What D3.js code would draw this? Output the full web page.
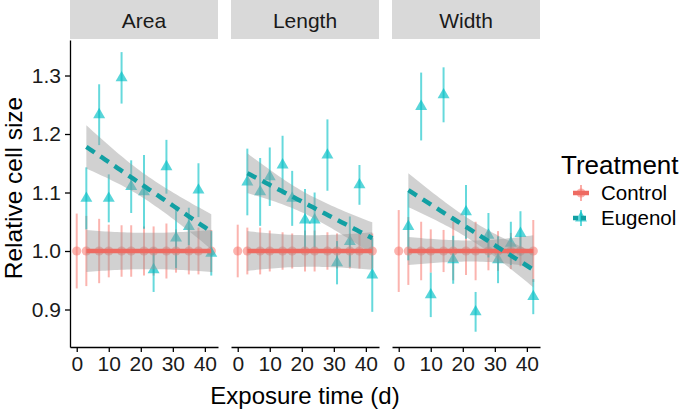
<!DOCTYPE html>
<html><head><meta charset="utf-8">
<script src="https://cdn.jsdelivr.net/npm/d3@7"></script>
<style>body{margin:0;background:#fff}svg{display:block;font-family:"Liberation Sans",Arial,sans-serif}</style>
</head><body><div id="chart"></div>
<script>
// ---------- data ----------
const panels = ["Area", "Length", "Width"];
const ctrlDays = [0, 3, 7, 10, 14, 17, 21, 24, 28, 31, 35, 38, 42];
const ctrlMean = [1, 1, 1, 1, 1, 1, 1, 1, 1, 1, 1, 1, 1];
const areaCtrlErr   = [0.064, 0.060, 0.055, 0.045, 0.044, 0.044, 0.042, 0.042, 0.047, 0.037, 0.040, 0.040, 0.036];
const lengthCtrlErr = [0.045, 0.040, 0.040, 0.035, 0.032, 0.030, 0.035, 0.035, 0.032, 0.030, 0.030, 0.030, 0.030];
const widthCtrlErr  = [0.070, 0.058, 0.050, 0.037, 0.036, 0.050, 0.041, 0.050, 0.033, 0.034, 0.031, 0.026, 0.053];
const eugDays = [3, 7, 10, 14, 17, 21, 24, 28, 31, 35, 38, 42];
const areaEug      = [1.090, 1.233, 1.090, 1.296, 1.110, 1.101, 0.968, 1.144, 1.022, 1.042, 1.104, 0.996];
const areaEugErr   = [0.053, 0.052, 0.041, 0.044, 0.045, 0.063, 0.038, 0.046, 0.051, 0.032, 0.046, 0.038];
const lengthEug    = [1.118, 1.101, 1.127, 1.147, 1.090, 1.053, 1.053, 1.164, 0.980, 1.016, 1.113, 0.959];
const lengthEugErr = [0.057, 0.058, 0.050, 0.050, 0.047, 0.053, 0.047, 0.061, 0.037, 0.043, 0.034, 0.063];
const widthEug     = [1.042, 1.247, 0.925, 1.267, 0.985, 1.067, 0.896, 1.027, 0.985, 1.013, 1.030, 0.922];
const widthEugErr  = [0.058, 0.058, 0.038, 0.047, 0.041, 0.046, 0.034, 0.038, 0.040, 0.037, 0.038, 0.030];
// linear fits (day 3 to day 42): fitted value at start/end and CI half-width at start/middle/end
const fitRange = [3, 42];
const ctrlFitStart = [1.0, 1.0, 1.0];
const ctrlFitEnd   = [1.0, 1.0, 1.0];
const ctrlCI = [[0.036, 0.031, 0.036], [0.034, 0.027, 0.032], [0.024, 0.018, 0.027]];
const eugFitStart = [1.178, 1.133, 1.104];
const eugFitEnd   = [1.033, 1.022, 0.968];
const eugCI = [[0.037, 0.021, 0.030], [0.034, 0.018, 0.027], [0.029, 0.017, 0.030]];
const xTicks = [0, 10, 20, 30, 40];
const yTicks = [0.9, 1.0, 1.1, 1.2, 1.3];
const treatments = ["Control", "Eugenol"];

// ---------- layout ----------
const W = 685, H = 411;
const colors = {Control: "#F8766D", Eugenol: "#00BFC4"};
const panelW = 148, panelX = [70, 231, 392], plotTop = 40, plotBottom = 347, stripH = 39;
const font = "'Liberation Sans', Arial, sans-serif";

const svg = d3.select("#chart").append("svg").attr("width", W).attr("height", H);

const x = d3.scaleLinear().domain([-2.1, 44.1]).range([0, panelW]);
const y = d3.scaleLinear().domain([0.8359, 1.3607]).range([plotBottom, plotTop]);

const ctrlErrs = [areaCtrlErr, lengthCtrlErr, widthCtrlErr];
const eugVals = [areaEug, lengthEug, widthEug];
const eugErrs = [areaEugErr, lengthEugErr, widthEugErr];

function ribbonData(start, end, ci) {
  const xm = (fitRange[0] + fitRange[1]) / 2, half = (fitRange[1] - fitRange[0]) / 2;
  const kS = Math.sqrt(Math.max(ci[0] ** 2 - ci[1] ** 2, 0)) / half;
  const kE = Math.sqrt(Math.max(ci[2] ** 2 - ci[1] ** 2, 0)) / half;
  const pts = [];
  for (let i = 0; i <= 40; i++) {
    const d = fitRange[0] + (fitRange[1] - fitRange[0]) * i / 40;
    const v = start + (end - start) * (d - fitRange[0]) / (fitRange[1] - fitRange[0]);
    const k = d < xm ? kS : kE;
    const hw = Math.sqrt(ci[1] ** 2 + (k * (d - xm)) ** 2);
    pts.push({d, lo: v - hw, hi: v + hw, v});
  }
  return pts;
}

panels.forEach((name, pi) => {
  const g = svg.append("g").attr("transform", `translate(${panelX[pi]},0)`);
  // strip
  g.append("rect").attr("x", 0).attr("y", 0).attr("width", panelW).attr("height", stripH).attr("fill", "#D9D9D9");
  g.append("text").attr("x", panelW / 2).attr("y", 27.5).attr("text-anchor", "middle")
    .attr("font-size", 21).attr("fill", "#1a1a1a").text(name);

  const ctrl = ctrlDays.map((d, i) => ({d, v: ctrlMean[i], e: ctrlErrs[pi][i]}));
  const eug = eugDays.map((d, i) => ({d, v: eugVals[pi][i], e: eugErrs[pi][i]}));

  // error bars
  g.selectAll(".ce").data(ctrl).join("line")
    .attr("x1", d => x(d.d)).attr("x2", d => x(d.d))
    .attr("y1", d => y(d.v - d.e)).attr("y2", d => y(d.v + d.e))
    .attr("stroke", colors.Control).attr("stroke-opacity", 0.55).attr("stroke-width", 2);
  g.selectAll(".ee").data(eug).join("line")
    .attr("x1", d => x(d.d)).attr("x2", d => x(d.d))
    .attr("y1", d => y(d.v - d.e)).attr("y2", d => y(d.v + d.e))
    .attr("stroke", colors.Eugenol).attr("stroke-opacity", 0.6).attr("stroke-width", 2);
  // points
  g.selectAll(".cp").data(ctrl).join("circle")
    .attr("cx", d => x(d.d)).attr("cy", d => y(d.v)).attr("r", 4.6)
    .attr("fill", colors.Control).attr("fill-opacity", 0.55);
  const tri = d3.symbol().type(d3.symbolTriangle).size(62);
  g.selectAll(".ep").data(eug).join("path")
    .attr("d", tri).attr("transform", d => `translate(${x(d.d)},${y(d.v)})`)
    .attr("fill", colors.Eugenol).attr("fill-opacity", 0.65);

  // ribbons
  const area = d3.area().x(d => x(d.d)).y0(d => y(d.lo)).y1(d => y(d.hi));
  const line = d3.line().x(d => x(d.d)).y(d => y(d.v));
  const rc = ribbonData(ctrlFitStart[pi], ctrlFitEnd[pi], ctrlCI[pi]);
  const re = ribbonData(eugFitStart[pi], eugFitEnd[pi], eugCI[pi]);
  g.append("path").attr("d", area(rc)).attr("fill", "#999999").attr("fill-opacity", 0.45);
  g.append("path").attr("d", area(re)).attr("fill", "#999999").attr("fill-opacity", 0.45);
  g.append("path").attr("d", line(rc)).attr("fill", "none").attr("stroke", "#EE6B62").attr("stroke-width", 4.5);
  g.append("path").attr("d", line(re)).attr("fill", "none").attr("stroke", "#12A0A3")
    .attr("stroke-width", 4.5).attr("stroke-dasharray", "10,7");

  // x axis
  const xa = g.append("g").attr("transform", `translate(0,${plotBottom})`)
    .call(d3.axisBottom(x).tickValues(xTicks).tickSize(5).tickPadding(4).tickSizeOuter(0));
  xa.select(".domain").attr("stroke", "#000").attr("stroke-width", 1.3);
  xa.selectAll(".tick line").attr("stroke", "#000").attr("stroke-width", 1.3);
  xa.selectAll(".tick text").attr("font-size", 21).attr("font-family", font).attr("fill", "#1a1a1a");
  if (pi === 0) {
    const ya = g.append("g")
      .call(d3.axisLeft(y).tickValues(yTicks).tickFormat(d3.format(".1f")).tickSize(5).tickPadding(4).tickSizeOuter(0));
    ya.select(".domain").attr("stroke", "#000").attr("stroke-width", 1.3);
    ya.selectAll(".tick line").attr("stroke", "#000").attr("stroke-width", 1.3);
    ya.selectAll(".tick text").attr("font-size", 21).attr("font-family", font).attr("fill", "#1a1a1a");
  }
});

// axis titles
svg.append("text").attr("x", (panelX[0] + panelX[2] + panelW) / 2).attr("y", 404)
  .attr("text-anchor", "middle").attr("font-size", 24).text("Exposure time (d)");
svg.append("text").attr("transform", `translate(22,188) rotate(-90)`)
  .attr("text-anchor", "middle").attr("font-size", 24.5).text("Relative cell size");

// legend
const lg = svg.append("g").attr("transform", "translate(561,0)");
lg.append("text").attr("x", 0).attr("y", 174).attr("font-size", 26).text("Treatment");
treatments.forEach((t, i) => {
  const cy = 193 + i * 25;
  const k = lg.append("g").attr("transform", `translate(20,${cy})`);
  k.append("line").attr("x1", 0).attr("x2", 0).attr("y1", -8).attr("y2", 8)
    .attr("stroke", colors[t]).attr("stroke-opacity", 0.6).attr("stroke-width", 2);
  if (t === "Control") {
    k.append("circle").attr("r", 4.6).attr("fill", colors[t]).attr("fill-opacity", 0.55);
    k.append("line").attr("x1", -8).attr("x2", 8).attr("stroke", "#EE6B62").attr("stroke-width", 4.5);
  } else {
    k.append("path").attr("d", d3.symbol().type(d3.symbolTriangle).size(62)).attr("fill", colors[t]).attr("fill-opacity", 0.65);
    k.append("line").attr("x1", -8).attr("x2", 8).attr("stroke", "#12A0A3").attr("stroke-width", 4.5).attr("stroke-dasharray", "5,3");
  }
  lg.append("text").attr("x", 40).attr("y", cy + 7).attr("font-size", 20.5).text(t);
});
</script></body></html>
